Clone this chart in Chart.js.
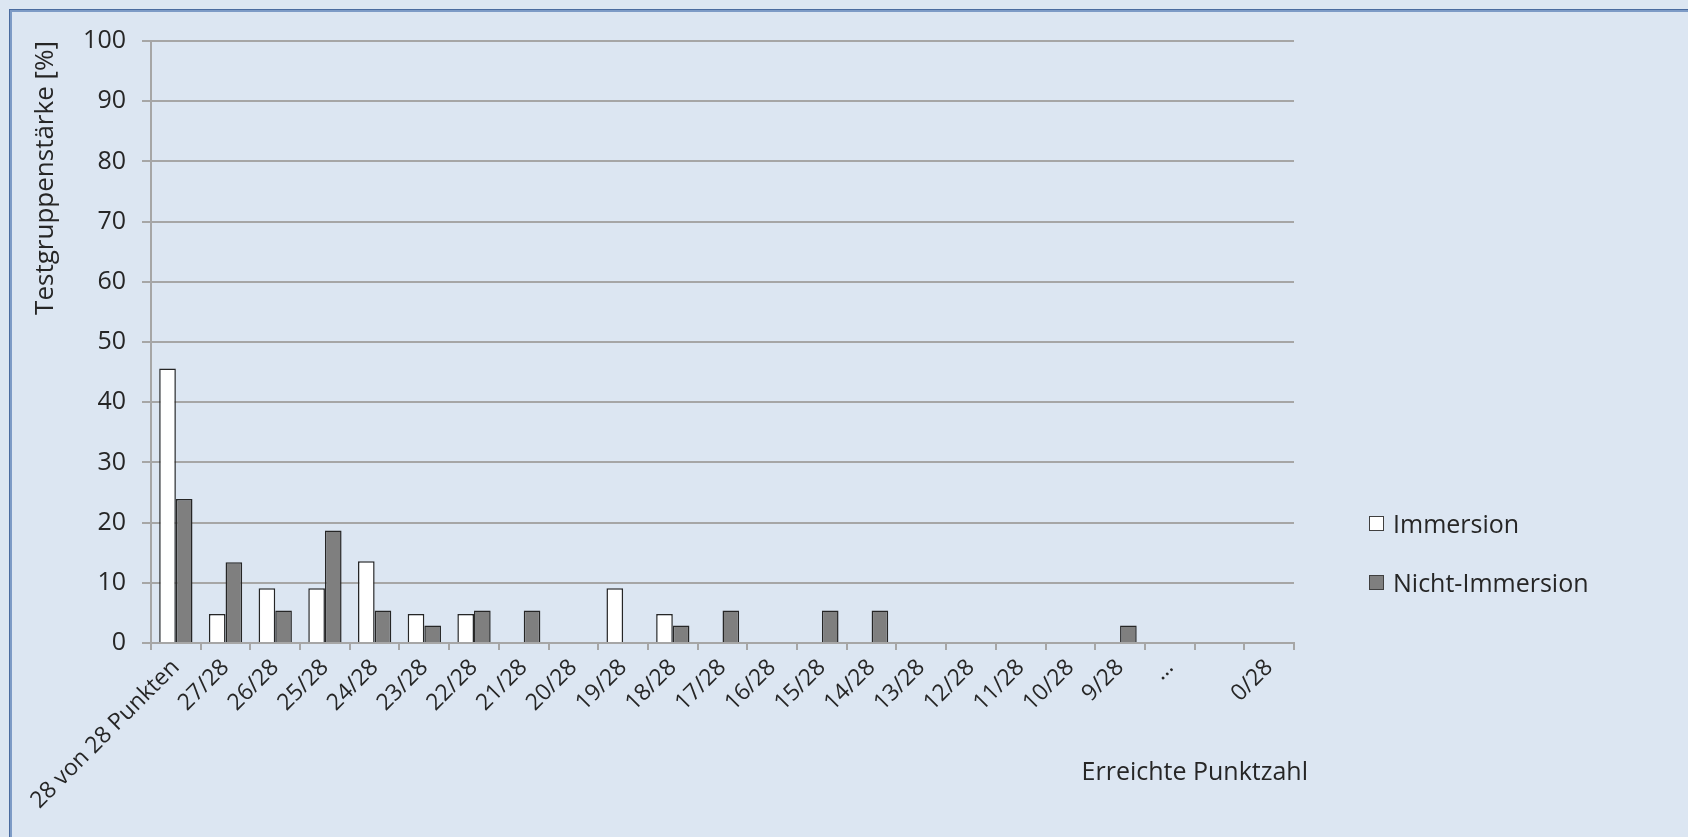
<!DOCTYPE html>
<html lang="de">
<head>
<meta charset="utf-8">
<title>Testgruppenstärke</title>
<script src="https://cdn.jsdelivr.net/npm/chart.js@4/dist/chart.umd.min.js"></script>
<style>
  body { margin: 0; background: #dce6f2; }
  #wrap { position: relative; width: 1688px; height: 837px; overflow: hidden; background: #dce6f2; }
  #frame {
    position: absolute; left: 10px; top: 10px; width: 1800px; height: 900px;
    border-style: solid; border-width: 2px 0 0 2px; border-color: #7d9bc6;
    box-shadow: -1px -1px 0 #4a6b9f;
  }
  #chart { position: absolute; left: 0; top: 0; }
  #legend { position: absolute; left: 1369px; top: 506px; font: 25px "Open Sans", sans-serif; color: #262626; }
  #legend .item { display: flex; align-items: center; height: 34px; margin-bottom: 25px; }
  #legend .box { width: 13px; height: 13px; border: 1px solid #404040; margin-right: 9px; }
</style>
</head>
<body>
<div id="wrap">
  <div id="frame"></div>
  <canvas id="chart" width="1688" height="837"></canvas>
  <div id="legend"></div>
</div>
<script>
const categories = [
  "28 von 28 Punkten", "27/28", "26/28", "25/28", "24/28", "23/28", "22/28",
  "21/28", "20/28", "19/28", "18/28", "17/28", "16/28", "15/28", "14/28",
  "13/28", "12/28", "11/28", "10/28", "9/28", "…", "", "0/28",
];
const immersion = [45.6, 4.8, 9.1, 9.1, 13.6, 4.8, 4.8, 0, 0, 9.1, 4.8, 0, 0, 0, 0, 0, 0, 0, 0, 0, 0, 0, 0];
const nichtImmersion = [23.9, 13.4, 5.4, 18.7, 5.4, 2.9, 5.4, 5.4, 0, 0, 2.9, 5.4, 0, 5.4, 5.4, 0, 0, 0, 0, 2.9, 0, 0, 0];
const yTicks = [0, 10, 20, 30, 40, 50, 60, 70, 80, 90, 100];

const textColor = "#262626";
const gridColor = "#a6a6a6";
const xTitle = "Erreichte Punktzahl";

const xTitlePlugin = {
  id: "xTitle",
  afterDraw(chart) {
    const { ctx, chartArea } = chart;
    ctx.save();
    ctx.font = '25px "Open Sans"';
    ctx.fillStyle = textColor;
    ctx.textAlign = "right";
    ctx.textBaseline = "middle";
    ctx.fillText(xTitle, chartArea.right + 14, chartArea.bottom + 130);
    ctx.restore();
  },
};

const chart = new Chart(document.getElementById("chart"), {
  type: "bar",
  data: {
    labels: categories,
    datasets: [
      {
        label: "Immersion",
        data: immersion,
        backgroundColor: "#ffffff",
        borderColor: "#262626",
        borderWidth: 1.5,
      },
      {
        label: "Nicht-Immersion",
        data: nichtImmersion,
        backgroundColor: "#7f7f7f",
        borderColor: "#262626",
        borderWidth: 1.5,
      },
    ],
  },
  options: {
    responsive: false,
    animation: false,
    devicePixelRatio: 1,
    layout: { padding: { left: 30, top: 41, right: 394, bottom: 0 } },
    datasets: { bar: { categoryPercentage: 0.67, barPercentage: 1 } },
    plugins: { legend: { display: false }, tooltip: { enabled: false } },
    scales: {
      x: {
        grid: { drawOnChartArea: false, offset: true, color: gridColor, lineWidth: 2, tickLength: 7 },
        border: { color: gridColor, width: 2 },
        ticks: {
          autoSkip: false,
          minRotation: 45,
          maxRotation: 45,
          padding: 4,
          color: textColor,
          font: { family: "Open Sans", size: 23 },
        },
        afterFit: (scale) => { scale.height = 194; },
      },
      y: {
        min: 0,
        max: 100,
        afterBuildTicks: (scale) => { scale.ticks = yTicks.map((v) => ({ value: v })); },
        grid: { color: gridColor, lineWidth: 2, tickLength: 9 },
        border: { color: gridColor, width: 2 },
        ticks: { padding: 16, color: textColor, font: { family: "Open Sans", size: 25 } },
        title: {
          display: true,
          text: "Testgruppenstärke [%]",
          align: "end",
          color: textColor,
          padding: 0,
          font: { family: "Open Sans", size: 26 },
        },
        afterFit: (scale) => { scale.width = 121; },
      },
    },
  },
  plugins: [xTitlePlugin],
});

const legend = document.getElementById("legend");
chart.data.datasets.forEach((ds) => {
  const item = document.createElement("div");
  item.className = "item";
  item.innerHTML = `<span class="box" style="background:${ds.backgroundColor}"></span><span>${ds.label}</span>`;
  legend.appendChild(item);
});
</script>
</body>
</html>
